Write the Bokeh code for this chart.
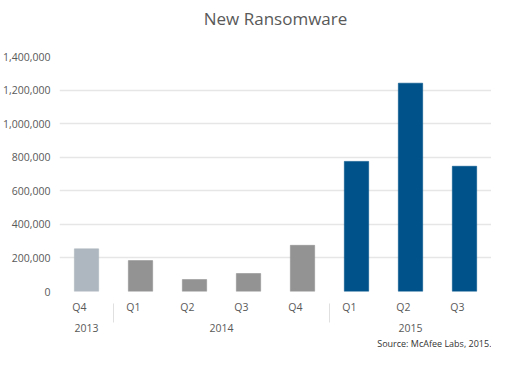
from bokeh.plotting import figure
from bokeh.models import (FactorRange, ColumnDataSource, NumeralTickFormatter, Title,
                          FixedTicker)
from bokeh.embed import file_html
from bokeh.resources import INLINE

years = ["2013", "2014", "2014", "2014", "2014", "2015", "2015", "2015"]
quarters = ["Q4", "Q1", "Q2", "Q3", "Q4", "Q1", "Q2", "Q3"]
values = [254000, 184000, 71000, 107000, 275000, 775000, 1241000, 746000]
colors = ["#aeb7bf", "#939393", "#939393", "#939393", "#939393", "#00538a", "#00538a", "#00538a"]
y_ticks = [0, 200000, 400000, 600000, 800000, 1000000, 1200000, 1400000]

factors = list(zip(years, quarters))
src = ColumnDataSource(dict(x=factors, v=values, c=colors))

p = figure(width=491, height=349, output_backend="svg", toolbar_location=None,
           x_range=FactorRange(*factors, group_padding=0, factor_padding=0, range_padding=0),
           y_range=(0, 1400000),
           min_border_left=50, min_border_right=0, min_border_top=0, min_border_bottom=0)

p.vbar(x="x", top="v", width=0.45, fill_color="c", line_color="c", line_alpha=0.6, source=src)

main_title = Title(text="New Ransomware", align="center", text_font="Open Sans",
                   text_font_size="17px", text_font_style="normal", text_color="#595959",
                   standoff=0)
p.title = None
spacer_mid = Title(text=" ", text_font_size="10px", standoff=14)
spacer_top = Title(text=" ", text_font_size="2px", standoff=0)
p.above = [spacer_mid, main_title, spacer_top]

p.outline_line_color = None
p.xgrid.grid_line_color = None
p.ygrid.grid_line_color = "#e6e6e6"
p.ygrid.grid_line_width = 1.5

p.yaxis.ticker = FixedTicker(ticks=y_ticks)
p.yaxis.formatter = NumeralTickFormatter(format="0,0")
p.yaxis.axis_line_color = None
p.yaxis.major_tick_line_color = None
p.yaxis.minor_tick_line_color = None
p.yaxis.major_label_text_font = "Open Sans"
p.yaxis.major_label_text_font_size = "10.5px"
p.yaxis.major_label_text_color = "#595959"
p.yaxis.major_label_standoff = 3

xaxis = p.xaxis[0]
xaxis.axis_line_color = None
xaxis.major_tick_line_color = None
xaxis.minor_tick_line_color = None
xaxis.major_label_text_font = "Open Sans"
xaxis.major_label_text_font_size = "10.5px"
xaxis.major_label_text_color = "#595959"
xaxis.major_label_standoff = 0
xaxis.group_text_font = "Open Sans"
xaxis.group_text_font_size = "10.5px"
xaxis.group_text_color = "#595959"
xaxis.group_text_font_style = "normal"
xaxis.separator_line_color = "#e0e0e0"
xaxis.separator_line_width = 1
xaxis.major_label_orientation = 0

# invisible spacer directly under the plot area
spacer_below = Title(text=" ", text_font_size="7px", standoff=0)
src_title = Title(text="Source: McAfee Labs, 2015.", align="right", text_font="Open Sans",
                  text_font_size="9px", text_font_style="normal", text_color="#333333",
                  standoff=0, offset=0, text_line_height=0.6)
p.below = [spacer_below, xaxis, src_title]

open("out.html", "w").write(file_html(p, INLINE))
